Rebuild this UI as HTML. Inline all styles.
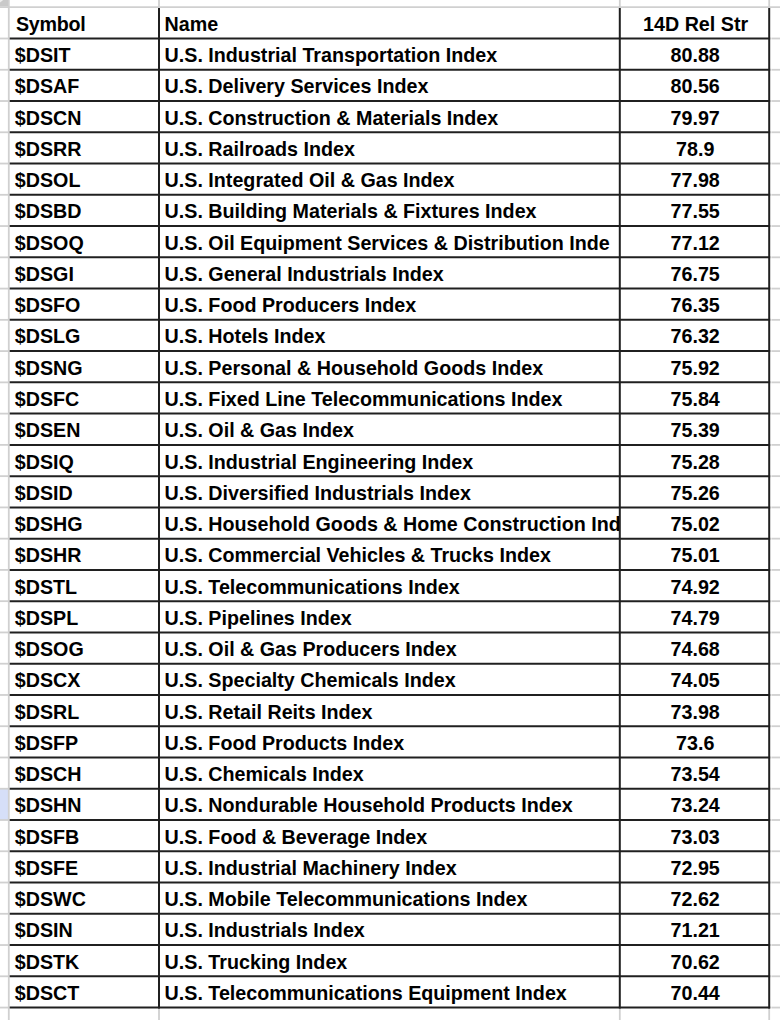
<!DOCTYPE html><html><head><meta charset="utf-8"><style>html,body{margin:0;padding:0;background:#fff;}
body{width:780px;height:1020px;position:relative;overflow:hidden;}
.t{position:absolute;font-family:"Liberation Sans",sans-serif;font-weight:bold;font-size:19.7px;line-height:normal;white-space:nowrap;color:#000;}
.c{width:200px;text-align:center;}</style></head><body><svg width="780" height="1020" viewBox="0 0 780 1020" style="position:absolute;left:0;top:0"><rect x="0" y="788.74" width="8.8" height="31.26" fill="#d6dff8"/><line x1="0" y1="7.2" x2="780" y2="7.2" stroke="#d0d0d0" stroke-width="1.8"/><line x1="0" y1="38.50" x2="8.8" y2="38.50" stroke="#d0d0d0" stroke-width="1.8"/><line x1="771.4000000000001" y1="38.50" x2="780" y2="38.50" stroke="#d0d0d0" stroke-width="1.8"/><line x1="0" y1="69.76" x2="8.8" y2="69.76" stroke="#d0d0d0" stroke-width="1.8"/><line x1="771.4000000000001" y1="69.76" x2="780" y2="69.76" stroke="#d0d0d0" stroke-width="1.8"/><line x1="0" y1="101.02" x2="8.8" y2="101.02" stroke="#d0d0d0" stroke-width="1.8"/><line x1="771.4000000000001" y1="101.02" x2="780" y2="101.02" stroke="#d0d0d0" stroke-width="1.8"/><line x1="0" y1="132.28" x2="8.8" y2="132.28" stroke="#d0d0d0" stroke-width="1.8"/><line x1="771.4000000000001" y1="132.28" x2="780" y2="132.28" stroke="#d0d0d0" stroke-width="1.8"/><line x1="0" y1="163.54" x2="8.8" y2="163.54" stroke="#d0d0d0" stroke-width="1.8"/><line x1="771.4000000000001" y1="163.54" x2="780" y2="163.54" stroke="#d0d0d0" stroke-width="1.8"/><line x1="0" y1="194.80" x2="8.8" y2="194.80" stroke="#d0d0d0" stroke-width="1.8"/><line x1="771.4000000000001" y1="194.80" x2="780" y2="194.80" stroke="#d0d0d0" stroke-width="1.8"/><line x1="0" y1="226.06" x2="8.8" y2="226.06" stroke="#d0d0d0" stroke-width="1.8"/><line x1="771.4000000000001" y1="226.06" x2="780" y2="226.06" stroke="#d0d0d0" stroke-width="1.8"/><line x1="0" y1="257.32" x2="8.8" y2="257.32" stroke="#d0d0d0" stroke-width="1.8"/><line x1="771.4000000000001" y1="257.32" x2="780" y2="257.32" stroke="#d0d0d0" stroke-width="1.8"/><line x1="0" y1="288.58" x2="8.8" y2="288.58" stroke="#d0d0d0" stroke-width="1.8"/><line x1="771.4000000000001" y1="288.58" x2="780" y2="288.58" stroke="#d0d0d0" stroke-width="1.8"/><line x1="0" y1="319.84" x2="8.8" y2="319.84" stroke="#d0d0d0" stroke-width="1.8"/><line x1="771.4000000000001" y1="319.84" x2="780" y2="319.84" stroke="#d0d0d0" stroke-width="1.8"/><line x1="0" y1="351.10" x2="8.8" y2="351.10" stroke="#d0d0d0" stroke-width="1.8"/><line x1="771.4000000000001" y1="351.10" x2="780" y2="351.10" stroke="#d0d0d0" stroke-width="1.8"/><line x1="0" y1="382.36" x2="8.8" y2="382.36" stroke="#d0d0d0" stroke-width="1.8"/><line x1="771.4000000000001" y1="382.36" x2="780" y2="382.36" stroke="#d0d0d0" stroke-width="1.8"/><line x1="0" y1="413.62" x2="8.8" y2="413.62" stroke="#d0d0d0" stroke-width="1.8"/><line x1="771.4000000000001" y1="413.62" x2="780" y2="413.62" stroke="#d0d0d0" stroke-width="1.8"/><line x1="0" y1="444.88" x2="8.8" y2="444.88" stroke="#d0d0d0" stroke-width="1.8"/><line x1="771.4000000000001" y1="444.88" x2="780" y2="444.88" stroke="#d0d0d0" stroke-width="1.8"/><line x1="0" y1="476.14" x2="8.8" y2="476.14" stroke="#d0d0d0" stroke-width="1.8"/><line x1="771.4000000000001" y1="476.14" x2="780" y2="476.14" stroke="#d0d0d0" stroke-width="1.8"/><line x1="0" y1="507.40" x2="8.8" y2="507.40" stroke="#d0d0d0" stroke-width="1.8"/><line x1="771.4000000000001" y1="507.40" x2="780" y2="507.40" stroke="#d0d0d0" stroke-width="1.8"/><line x1="0" y1="538.66" x2="8.8" y2="538.66" stroke="#d0d0d0" stroke-width="1.8"/><line x1="771.4000000000001" y1="538.66" x2="780" y2="538.66" stroke="#d0d0d0" stroke-width="1.8"/><line x1="0" y1="569.92" x2="8.8" y2="569.92" stroke="#d0d0d0" stroke-width="1.8"/><line x1="771.4000000000001" y1="569.92" x2="780" y2="569.92" stroke="#d0d0d0" stroke-width="1.8"/><line x1="0" y1="601.18" x2="8.8" y2="601.18" stroke="#d0d0d0" stroke-width="1.8"/><line x1="771.4000000000001" y1="601.18" x2="780" y2="601.18" stroke="#d0d0d0" stroke-width="1.8"/><line x1="0" y1="632.44" x2="8.8" y2="632.44" stroke="#d0d0d0" stroke-width="1.8"/><line x1="771.4000000000001" y1="632.44" x2="780" y2="632.44" stroke="#d0d0d0" stroke-width="1.8"/><line x1="0" y1="663.70" x2="8.8" y2="663.70" stroke="#d0d0d0" stroke-width="1.8"/><line x1="771.4000000000001" y1="663.70" x2="780" y2="663.70" stroke="#d0d0d0" stroke-width="1.8"/><line x1="0" y1="694.96" x2="8.8" y2="694.96" stroke="#d0d0d0" stroke-width="1.8"/><line x1="771.4000000000001" y1="694.96" x2="780" y2="694.96" stroke="#d0d0d0" stroke-width="1.8"/><line x1="0" y1="726.22" x2="8.8" y2="726.22" stroke="#d0d0d0" stroke-width="1.8"/><line x1="771.4000000000001" y1="726.22" x2="780" y2="726.22" stroke="#d0d0d0" stroke-width="1.8"/><line x1="0" y1="757.48" x2="8.8" y2="757.48" stroke="#d0d0d0" stroke-width="1.8"/><line x1="771.4000000000001" y1="757.48" x2="780" y2="757.48" stroke="#d0d0d0" stroke-width="1.8"/><line x1="0" y1="788.74" x2="8.8" y2="788.74" stroke="#d0d0d0" stroke-width="1.8"/><line x1="771.4000000000001" y1="788.74" x2="780" y2="788.74" stroke="#d0d0d0" stroke-width="1.8"/><line x1="0" y1="820.00" x2="8.8" y2="820.00" stroke="#d0d0d0" stroke-width="1.8"/><line x1="771.4000000000001" y1="820.00" x2="780" y2="820.00" stroke="#d0d0d0" stroke-width="1.8"/><line x1="0" y1="851.26" x2="8.8" y2="851.26" stroke="#d0d0d0" stroke-width="1.8"/><line x1="771.4000000000001" y1="851.26" x2="780" y2="851.26" stroke="#d0d0d0" stroke-width="1.8"/><line x1="0" y1="882.52" x2="8.8" y2="882.52" stroke="#d0d0d0" stroke-width="1.8"/><line x1="771.4000000000001" y1="882.52" x2="780" y2="882.52" stroke="#d0d0d0" stroke-width="1.8"/><line x1="0" y1="913.78" x2="8.8" y2="913.78" stroke="#d0d0d0" stroke-width="1.8"/><line x1="771.4000000000001" y1="913.78" x2="780" y2="913.78" stroke="#d0d0d0" stroke-width="1.8"/><line x1="0" y1="945.04" x2="8.8" y2="945.04" stroke="#d0d0d0" stroke-width="1.8"/><line x1="771.4000000000001" y1="945.04" x2="780" y2="945.04" stroke="#d0d0d0" stroke-width="1.8"/><line x1="0" y1="976.30" x2="8.8" y2="976.30" stroke="#d0d0d0" stroke-width="1.8"/><line x1="771.4000000000001" y1="976.30" x2="780" y2="976.30" stroke="#d0d0d0" stroke-width="1.8"/><line x1="0" y1="1007.56" x2="8.8" y2="1007.56" stroke="#d0d0d0" stroke-width="1.8"/><line x1="771.4000000000001" y1="1007.56" x2="780" y2="1007.56" stroke="#d0d0d0" stroke-width="1.8"/><line x1="8.8" y1="0" x2="8.8" y2="1020" stroke="#d0d0d0" stroke-width="1.8"/><line x1="159.0" y1="0" x2="159.0" y2="7.2" stroke="#d0d0d0" stroke-width="1.8"/><line x1="159.0" y1="1007.56" x2="159.0" y2="1020" stroke="#d0d0d0" stroke-width="1.8"/><line x1="619.8" y1="0" x2="619.8" y2="7.2" stroke="#d0d0d0" stroke-width="1.8"/><line x1="619.8" y1="1007.56" x2="619.8" y2="1020" stroke="#d0d0d0" stroke-width="1.8"/><line x1="769.2" y1="0" x2="769.2" y2="7.2" stroke="#d0d0d0" stroke-width="1.8"/><line x1="769.2" y1="1007.56" x2="769.2" y2="1020" stroke="#d0d0d0" stroke-width="1.8"/><line x1="9.7" y1="38.50" x2="770.2" y2="38.50" stroke="#202020" stroke-width="2.0"/><line x1="9.7" y1="69.76" x2="770.2" y2="69.76" stroke="#202020" stroke-width="2.0"/><line x1="9.7" y1="101.02" x2="770.2" y2="101.02" stroke="#202020" stroke-width="2.0"/><line x1="9.7" y1="132.28" x2="770.2" y2="132.28" stroke="#202020" stroke-width="2.0"/><line x1="9.7" y1="163.54" x2="770.2" y2="163.54" stroke="#202020" stroke-width="2.0"/><line x1="9.7" y1="194.80" x2="770.2" y2="194.80" stroke="#202020" stroke-width="2.0"/><line x1="9.7" y1="226.06" x2="770.2" y2="226.06" stroke="#202020" stroke-width="2.0"/><line x1="9.7" y1="257.32" x2="770.2" y2="257.32" stroke="#202020" stroke-width="2.0"/><line x1="9.7" y1="288.58" x2="770.2" y2="288.58" stroke="#202020" stroke-width="2.0"/><line x1="9.7" y1="319.84" x2="770.2" y2="319.84" stroke="#202020" stroke-width="2.0"/><line x1="9.7" y1="351.10" x2="770.2" y2="351.10" stroke="#202020" stroke-width="2.0"/><line x1="9.7" y1="382.36" x2="770.2" y2="382.36" stroke="#202020" stroke-width="2.0"/><line x1="9.7" y1="413.62" x2="770.2" y2="413.62" stroke="#202020" stroke-width="2.0"/><line x1="9.7" y1="444.88" x2="770.2" y2="444.88" stroke="#202020" stroke-width="2.0"/><line x1="9.7" y1="476.14" x2="770.2" y2="476.14" stroke="#202020" stroke-width="2.0"/><line x1="9.7" y1="507.40" x2="770.2" y2="507.40" stroke="#202020" stroke-width="2.0"/><line x1="9.7" y1="538.66" x2="770.2" y2="538.66" stroke="#202020" stroke-width="2.0"/><line x1="9.7" y1="569.92" x2="770.2" y2="569.92" stroke="#202020" stroke-width="2.0"/><line x1="9.7" y1="601.18" x2="770.2" y2="601.18" stroke="#202020" stroke-width="2.0"/><line x1="9.7" y1="632.44" x2="770.2" y2="632.44" stroke="#202020" stroke-width="2.0"/><line x1="9.7" y1="663.70" x2="770.2" y2="663.70" stroke="#202020" stroke-width="2.0"/><line x1="9.7" y1="694.96" x2="770.2" y2="694.96" stroke="#202020" stroke-width="2.0"/><line x1="9.7" y1="726.22" x2="770.2" y2="726.22" stroke="#202020" stroke-width="2.0"/><line x1="9.7" y1="757.48" x2="770.2" y2="757.48" stroke="#202020" stroke-width="2.0"/><line x1="9.7" y1="788.74" x2="770.2" y2="788.74" stroke="#202020" stroke-width="2.0"/><line x1="9.7" y1="820.00" x2="770.2" y2="820.00" stroke="#202020" stroke-width="2.0"/><line x1="9.7" y1="851.26" x2="770.2" y2="851.26" stroke="#202020" stroke-width="2.0"/><line x1="9.7" y1="882.52" x2="770.2" y2="882.52" stroke="#202020" stroke-width="2.0"/><line x1="9.7" y1="913.78" x2="770.2" y2="913.78" stroke="#202020" stroke-width="2.0"/><line x1="9.7" y1="945.04" x2="770.2" y2="945.04" stroke="#202020" stroke-width="2.0"/><line x1="9.7" y1="976.30" x2="770.2" y2="976.30" stroke="#202020" stroke-width="2.0"/><line x1="9.7" y1="1007.56" x2="770.2" y2="1007.56" stroke="#202020" stroke-width="2.0"/><line x1="159.0" y1="8.0" x2="159.0" y2="1008.56" stroke="#202020" stroke-width="2.0"/><line x1="619.8" y1="8.0" x2="619.8" y2="1008.56" stroke="#202020" stroke-width="2.0"/><line x1="769.2" y1="8.0" x2="769.2" y2="1008.56" stroke="#202020" stroke-width="2.0"/><rect x="0" y="0" width="8.0" height="6.4" fill="#c9c9c9"/><polygon points="0,0 3.2,0 0,2.6" fill="#eeeeee"/></svg><div class="t" style="letter-spacing:-0.28px;left:16.00px;top:12.87px">Symbol</div><div class="t c" style="left:595.60px;top:12.87px">14D Rel Str</div><div class="t" style="left:14.80px;top:44.13px">$DSIT</div><div class="t c" style="left:595.20px;top:44.13px">80.88</div><div class="t" style="left:14.80px;top:75.39px">$DSAF</div><div class="t c" style="left:595.20px;top:75.39px">80.56</div><div class="t" style="left:14.80px;top:106.65px">$DSCN</div><div class="t c" style="left:595.20px;top:106.65px">79.97</div><div class="t" style="left:14.80px;top:137.91px">$DSRR</div><div class="t c" style="left:595.20px;top:137.91px">78.9</div><div class="t" style="left:14.80px;top:169.17px">$DSOL</div><div class="t c" style="left:595.20px;top:169.17px">77.98</div><div class="t" style="left:14.80px;top:200.43px">$DSBD</div><div class="t c" style="left:595.20px;top:200.43px">77.55</div><div class="t" style="left:14.80px;top:231.69px">$DSOQ</div><div class="t c" style="left:595.20px;top:231.69px">77.12</div><div class="t" style="left:14.80px;top:262.95px">$DSGI</div><div class="t c" style="left:595.20px;top:262.95px">76.75</div><div class="t" style="left:14.80px;top:294.21px">$DSFO</div><div class="t c" style="left:595.20px;top:294.21px">76.35</div><div class="t" style="left:14.80px;top:325.47px">$DSLG</div><div class="t c" style="left:595.20px;top:325.47px">76.32</div><div class="t" style="left:14.80px;top:356.73px">$DSNG</div><div class="t c" style="left:595.20px;top:356.73px">75.92</div><div class="t" style="left:14.80px;top:387.99px">$DSFC</div><div class="t c" style="left:595.20px;top:387.99px">75.84</div><div class="t" style="left:14.80px;top:419.25px">$DSEN</div><div class="t c" style="left:595.20px;top:419.25px">75.39</div><div class="t" style="left:14.80px;top:450.51px">$DSIQ</div><div class="t c" style="left:595.20px;top:450.51px">75.28</div><div class="t" style="left:14.80px;top:481.77px">$DSID</div><div class="t c" style="left:595.20px;top:481.77px">75.26</div><div class="t" style="left:14.80px;top:513.03px">$DSHG</div><div class="t c" style="left:595.20px;top:513.03px">75.02</div><div class="t" style="left:14.80px;top:544.29px">$DSHR</div><div class="t c" style="left:595.20px;top:544.29px">75.01</div><div class="t" style="left:14.80px;top:575.55px">$DSTL</div><div class="t c" style="left:595.20px;top:575.55px">74.92</div><div class="t" style="left:14.80px;top:606.81px">$DSPL</div><div class="t c" style="left:595.20px;top:606.81px">74.79</div><div class="t" style="left:14.80px;top:638.07px">$DSOG</div><div class="t c" style="left:595.20px;top:638.07px">74.68</div><div class="t" style="left:14.80px;top:669.33px">$DSCX</div><div class="t c" style="left:595.20px;top:669.33px">74.05</div><div class="t" style="left:14.80px;top:700.59px">$DSRL</div><div class="t c" style="left:595.20px;top:700.59px">73.98</div><div class="t" style="left:14.80px;top:731.85px">$DSFP</div><div class="t c" style="left:595.20px;top:731.85px">73.6</div><div class="t" style="left:14.80px;top:763.11px">$DSCH</div><div class="t c" style="left:595.20px;top:763.11px">73.54</div><div class="t" style="left:14.80px;top:794.37px">$DSHN</div><div class="t c" style="left:595.20px;top:794.37px">73.24</div><div class="t" style="left:14.80px;top:825.63px">$DSFB</div><div class="t c" style="left:595.20px;top:825.63px">73.03</div><div class="t" style="left:14.80px;top:856.89px">$DSFE</div><div class="t c" style="left:595.20px;top:856.89px">72.95</div><div class="t" style="left:14.80px;top:888.15px">$DSWC</div><div class="t c" style="left:595.20px;top:888.15px">72.62</div><div class="t" style="left:14.80px;top:919.41px">$DSIN</div><div class="t c" style="left:595.20px;top:919.41px">71.21</div><div class="t" style="left:14.80px;top:950.67px">$DSTK</div><div class="t c" style="left:595.20px;top:950.67px">70.62</div><div class="t" style="left:14.80px;top:981.93px">$DSCT</div><div class="t c" style="left:595.20px;top:981.93px">70.44</div><div style="position:absolute;left:159.0px;top:0;width:460.0px;height:1020px;overflow:hidden"><div class="t" style="left:5.60px;top:12.87px">Name</div><div class="t" style="left:5.60px;top:44.13px">U.S. Industrial Transportation Index</div><div class="t" style="left:5.60px;top:75.39px">U.S. Delivery Services Index</div><div class="t" style="left:5.60px;top:106.65px">U.S. Construction &amp; Materials Index</div><div class="t" style="left:5.60px;top:137.91px">U.S. Railroads Index</div><div class="t" style="left:5.60px;top:169.17px">U.S. Integrated Oil &amp; Gas Index</div><div class="t" style="left:5.60px;top:200.43px">U.S. Building Materials &amp; Fixtures Index</div><div class="t" style="left:5.60px;top:231.69px">U.S. Oil Equipment Services &amp; Distribution Inde</div><div class="t" style="left:5.60px;top:262.95px">U.S. General Industrials Index</div><div class="t" style="left:5.60px;top:294.21px">U.S. Food Producers Index</div><div class="t" style="left:5.60px;top:325.47px">U.S. Hotels Index</div><div class="t" style="left:5.60px;top:356.73px">U.S. Personal &amp; Household Goods Index</div><div class="t" style="left:5.60px;top:387.99px">U.S. Fixed Line Telecommunications Index</div><div class="t" style="left:5.60px;top:419.25px">U.S. Oil &amp; Gas Index</div><div class="t" style="left:5.60px;top:450.51px">U.S. Industrial Engineering Index</div><div class="t" style="left:5.60px;top:481.77px">U.S. Diversified Industrials Index</div><div class="t" style="left:5.60px;top:513.03px">U.S. Household Goods &amp; Home Construction Ind</div><div class="t" style="left:5.60px;top:544.29px">U.S. Commercial Vehicles &amp; Trucks Index</div><div class="t" style="left:5.60px;top:575.55px">U.S. Telecommunications Index</div><div class="t" style="left:5.60px;top:606.81px">U.S. Pipelines Index</div><div class="t" style="left:5.60px;top:638.07px">U.S. Oil &amp; Gas Producers Index</div><div class="t" style="left:5.60px;top:669.33px">U.S. Specialty Chemicals Index</div><div class="t" style="left:5.60px;top:700.59px">U.S. Retail Reits Index</div><div class="t" style="left:5.60px;top:731.85px">U.S. Food Products Index</div><div class="t" style="left:5.60px;top:763.11px">U.S. Chemicals Index</div><div class="t" style="left:5.60px;top:794.37px">U.S. Nondurable Household Products Index</div><div class="t" style="left:5.60px;top:825.63px">U.S. Food &amp; Beverage Index</div><div class="t" style="left:5.60px;top:856.89px">U.S. Industrial Machinery Index</div><div class="t" style="left:5.60px;top:888.15px">U.S. Mobile Telecommunications Index</div><div class="t" style="left:5.60px;top:919.41px">U.S. Industrials Index</div><div class="t" style="left:5.60px;top:950.67px">U.S. Trucking Index</div><div class="t" style="left:5.60px;top:981.93px">U.S. Telecommunications Equipment Index</div></div></body></html>
